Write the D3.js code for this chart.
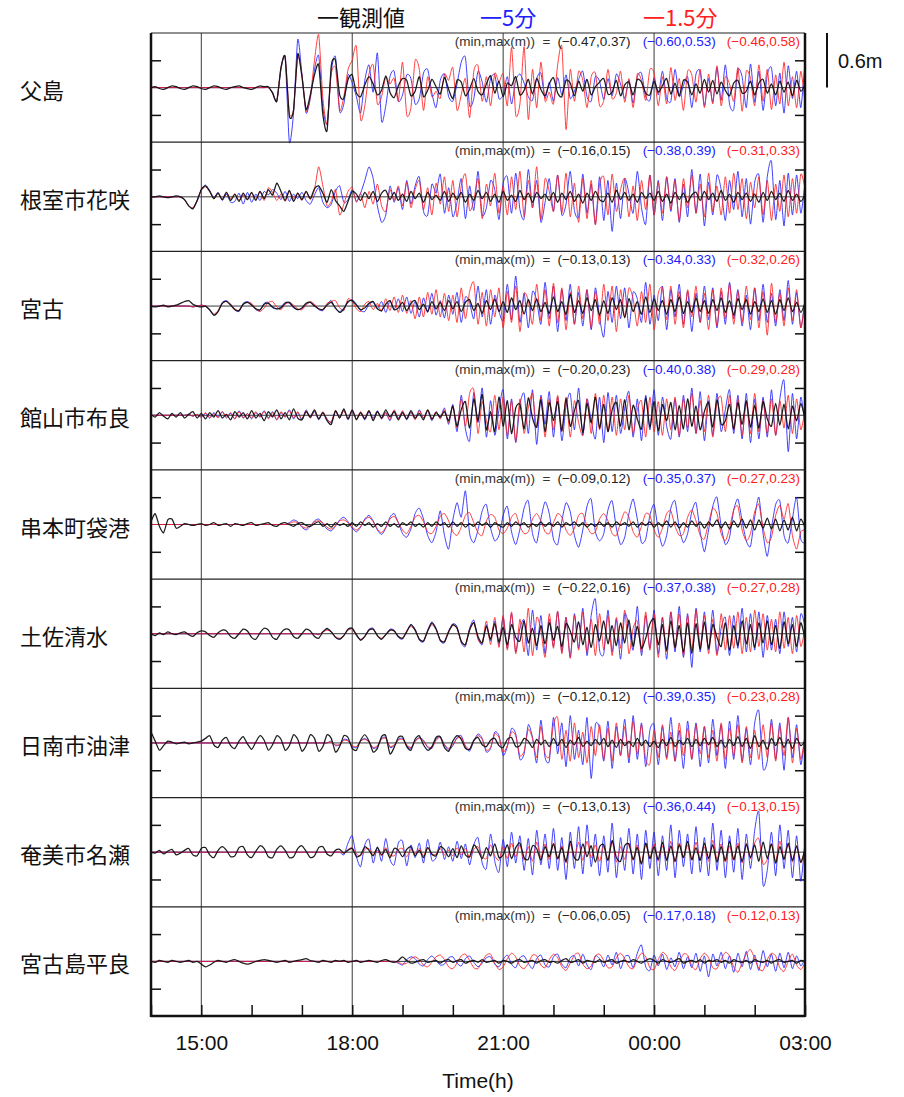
<!DOCTYPE html>
<html>
<head>
<meta charset="utf-8">
<script src="https://cdn.jsdelivr.net/npm/d3@7"></script>
<style>
  body { margin: 0; background: #fff; }
  svg { display: block; }
  .lat { font-family: "Liberation Sans", Arial, Helvetica, sans-serif; }
  .cjk { font-family: "Noto Sans CJK JP", "Noto Sans CJK SC", sans-serif; }
</style>
</head>
<body>
<svg id="chart" width="904" height="1097"></svg>
<script>
// Tide-gauge stations, top to bottom
const stations = ["父島", "根室市花咲", "宮古", "館山市布良", "串本町袋港", "土佐清水", "日南市油津", "奄美市名瀬", "宮古島平良"];

// Legend entries: observed, 5-minute and 1.5-minute simulations
const seriesNames = ["観測値", "5分", "1.5分"];
const seriesColors = ["#111111", "#2020ff", "#ff2020"];

// Axis ticks
const majorTickLabels = ["15:00", "18:00", "21:00", "00:00", "03:00"];
const yTickValues = [-0.3, 0.3];
const scaleBarMetres = 0.6;

// Sea level anomaly in cm, one sample every 5 minutes from 14:00 to 03:00 (157 samples)
const SAMPLE_MINUTES = 5;

// 父島
const obsChichi = [
  0,1,-1,-2,0,2,1,-1,-2,0,2,1,
  -1,-2,0,2,1,-1,-2,0,1,2,0,-1,
  -2,0,2,1,1,-6,-15,22,34,-31,-25,37,
  12,-24,-8,14,25,-30,-47,24,30,-8,-12,9,
  14,-6,-10,3,12,4,-8,-3,13,-5,-11,2,
  10,8,-9,-4,12,-10,-3,9,1,-7,11,-2,
  -12,8,6,-9,-2,10,-4,-8,4,13,-6,7,
  -10,5,2,12,-8,-3,9,-7,10,-2,-9,4,
  11,-6,-10,8,5,-9,7,-4,9,-8,1,6,
  10,-7,-5,8,-9,3,6,-8,9,6,-6,-8,
  7,-5,2,10,-7,5,-9,8,6,-8,4,-6,
  9,-5,8,-7,6,-3,-9,5,8,-6,-4,7,
  -8,5,9,-6,4,-8,7,-5,6,-9,8,-4,
  3];
const sim5Chichi = [
  0,0,0,0,0,0,0,0,0,0,0,0,
  0,0,0,0,0,0,0,0,0,0,0,0,
  0,0,0,0,0,-5,-15,20,32,-60,-28,53,
  15,-28,-12,20,35,-22,-40,18,34,-26,-18,14,
  5,-10,-28,8,25,-5,38,-37,-20,12,18,-15,
  -8,14,10,-18,-12,16,20,-6,-22,8,15,-10,
  -15,4,28,33,-20,-12,18,6,-16,10,14,-12,
  -8,12,-18,8,15,5,-10,-14,10,16,-12,6,
  -15,11,-8,14,-12,-4,9,18,-10,-15,12,7,
  -13,10,-9,15,4,-12,8,-17,12,16,-10,-14,
  11,-8,18,-12,-15,20,-10,2,12,-22,15,18,
  -20,10,-16,22,-14,25,-18,-24,20,12,-22,26,
  -16,18,-25,14,22,-20,16,-28,24,-12,18,-22,
  28];
const sim15Chichi = [
  0,0,0,0,0,0,0,0,0,0,0,0,
  0,0,0,0,0,0,0,0,0,0,0,0,
  0,0,0,0,0,-6,-15,22,33,-28,-24,34,
  14,-26,-10,30,58,-12,-40,15,22,-25,-10,20,
  30,45,-35,-20,15,25,-18,-10,12,4,10,-15,
  28,-30,-22,30,20,-25,12,-10,-4,-12,15,8,
  22,-25,-8,10,-33,18,24,-15,12,-20,16,6,
  15,-20,44,-30,-18,45,-35,20,-22,28,-15,-5,
  -18,25,45,-46,20,-15,18,8,-22,12,16,-20,
  -14,20,-12,-6,18,-16,10,-22,15,8,-14,20,
  16,-20,12,-18,22,-14,10,-25,18,14,-16,20,
  -22,15,-18,24,-20,12,4,-15,22,-26,18,10,
  -20,25,-15,20,-24,14,-18,28,-20,12,-22,18,
  -16];

// 根室市花咲
const obsNemuro = [
  0,0,1,0,-1,0,1,0,-3,-10,-13,-4,
  8,12,6,-2,4,-3,5,-4,3,-5,4,-3,
  5,-4,6,-2,8,2,15,6,-4,7,-5,4,
  -3,6,-2,9,12,4,-6,8,-4,-10,-16,-5,
  6,3,-4,5,-2,6,-5,4,7,-3,5,-4,
  3,-5,6,-2,4,-6,5,-3,2,-4,6,-5,
  4,-3,5,-6,3,-4,7,-2,5,-5,3,-6,
  6,-4,2,-5,7,-3,4,-6,5,-2,3,-4,
  5,-6,4,-3,6,-5,3,-7,4,-4,6,-3,
  -5,4,-6,7,-3,5,-4,3,-6,5,-2,4,
  -4,6,-5,3,-7,5,-3,4,-6,2,5,-4,
  6,-3,4,-5,7,-4,3,-6,5,-3,4,-5,
  3,-6,5,-4,6,-3,4,-5,7,-4,3,-5,
  2];
const sim5Nemuro = [
  0,0,0,0,0,0,0,0,-3,-10,-13,-5,
  8,13,7,-1,5,-4,3,-6,-5,4,-8,5,
  -6,3,-4,6,2,8,4,-3,6,-5,3,-2,
  5,-4,-8,2,10,-6,-12,-8,6,12,-6,-3,
  8,-5,4,18,33,20,-10,-28,-20,12,-6,10,
  -14,18,-8,12,22,-16,-20,14,4,25,-18,10,
  -22,-6,20,-24,12,-15,28,-20,-12,18,8,-25,
  15,22,-18,26,-14,-24,30,-12,18,-28,-6,20,
  -16,24,-20,-8,28,-15,-22,25,-18,14,-30,22,
  -26,18,-38,15,-24,20,4,-18,28,-12,-30,24,
  -20,18,-26,22,-16,20,-28,14,-22,30,-18,25,
  -32,16,-20,24,8,-26,18,-14,28,-22,20,-30,
  16,24,-28,22,39,-25,18,-32,26,-20,24,-18,
  15];
const sim15Nemuro = [
  0,0,0,0,0,0,0,0,-3,-10,-12,-4,
  7,11,6,-2,4,-3,5,-2,3,-4,2,-3,
  4,-3,6,-4,10,5,-4,3,-5,6,-2,4,
  -4,6,-3,8,33,12,-10,-5,8,-20,-8,6,
  10,-6,4,-12,6,-8,14,-10,-16,8,-4,12,
  -10,16,-12,8,18,-14,10,-20,15,-8,22,-16,
  18,-22,12,25,-15,-4,20,-24,14,-10,26,-18,
  12,-20,22,-14,28,-22,18,-12,33,-25,20,6,
  -16,24,-18,26,-22,15,-28,20,-24,18,-31,14,
  22,-20,25,-16,8,20,-22,12,-26,18,-14,24,
  -20,16,-18,22,-14,18,-26,20,-12,24,-18,14,
  -22,26,-16,12,-20,22,-18,26,-14,20,-24,16,
  -12,22,-20,18,-26,14,-16,24,-22,20,-18,25,
  10];

// 宮古
const obsMiyako = [
  0,-1,0,1,-1,0,1,3,5,6,2,0,
  -1,0,-4,-10,-6,3,5,1,-4,-5,2,4,
  1,-3,-4,2,3,-1,-3,-2,3,4,-1,-4,
  -2,3,4,0,-3,-4,1,4,-2,-7,-3,5,
  6,1,-4,-2,3,5,-3,-5,2,6,-4,-2,
  4,-5,3,6,-4,2,-6,5,-3,4,-5,6,
  -3,5,-6,4,7,-5,3,-8,6,-4,8,-6,
  5,-7,9,-4,6,-9,7,-5,8,-6,4,-8,
  10,-6,5,-9,13,-7,6,-8,9,-5,7,-10,
  6,-8,9,-4,7,-13,8,-6,5,-9,10,-7,
  8,-5,6,-9,7,-6,10,-8,5,-7,9,-6,
  6,-8,7,-5,9,-7,6,-10,8,-4,7,-9,
  5,-6,8,-7,6,-9,7,-5,9,-6,4,-7,
  3];
const sim5Miyako = [
  0,0,0,0,0,0,0,0,0,0,-1,0,
  1,0,-5,-10,-6,4,6,2,-4,-6,3,5,
  2,-4,-5,3,4,-2,-3,-1,4,3,-2,-4,
  -3,2,4,1,-4,-5,2,6,-3,-6,-2,4,
  7,2,-5,-6,2,4,-3,5,-7,6,-4,8,
  -6,10,-8,5,-12,9,-7,14,-10,6,-13,12,
  -9,15,-18,10,4,-14,22,-12,18,-20,12,-6,
  -16,24,-15,33,-18,14,-24,16,6,-20,26,-14,
  22,-28,18,-16,24,-20,15,-22,18,-26,20,-12,
  -34,16,-18,22,-14,20,-24,15,8,-18,26,-20,
  12,-16,22,-26,18,-12,24,-20,16,-28,14,-18,
  22,-15,20,-24,16,-20,26,-14,18,-22,12,-26,
  20,-16,24,-18,14,-22,18,-16,28,-20,15,-24,
  8];
const sim15Miyako = [
  0,0,0,0,0,0,0,0,0,0,-1,0,
  1,0,-4,-9,-5,3,5,2,-3,-5,2,4,
  3,-3,-6,-2,4,5,-1,-4,2,4,1,-3,
  -4,1,5,2,-3,-4,3,5,6,-2,-5,8,
  5,-3,-6,2,5,-4,3,-6,8,-5,10,-7,
  12,-8,6,-14,10,-12,15,-9,18,-12,14,-16,
  12,-18,20,-14,16,26,-20,15,-22,18,-12,20,
  -24,16,-18,22,-28,14,6,-20,24,-16,18,-22,
  25,-18,20,-26,15,-20,22,-14,18,-24,16,-20,
  24,-16,22,-28,18,-12,20,8,-22,16,-18,24,
  -26,14,20,-15,22,-20,16,-24,18,-12,22,-18,
  14,-26,18,-22,20,-14,24,-20,16,-18,22,-15,
  20,-24,16,-32,25,-18,14,-22,20,-16,18,-24,
  6];

// 館山市布良
const obsTateyama = [
  1,-2,3,-1,-4,2,-2,3,-3,1,4,-3,
  2,-4,3,-2,5,-3,1,-5,4,-2,3,-4,
  5,-3,2,-6,4,-2,6,-4,3,-5,7,-3,
  -5,4,-2,6,-4,3,-6,-10,5,-3,7,-4,
  6,-5,3,-4,5,-6,4,-3,6,-2,4,-5,
  3,-4,5,-3,2,-5,6,-4,3,-2,4,-6,
  10,-12,6,15,-14,18,-6,23,-16,4,-18,20,
  -12,16,-20,8,12,-15,19,-3,-13,17,-18,14,
  -6,15,-17,18,-12,5,16,-19,13,-8,20,-14,
  12,-18,6,14,-12,17,-16,11,-4,-15,19,-13,
  15,-17,12,-6,14,-16,11,-15,18,-12,10,-16,
  4,14,-13,17,-10,-6,12,-15,14,-10,16,-13,
  11,-14,15,-4,-12,13,-11,12,-15,10,-6,13,
  -4];
const sim5Tateyama = [
  0,0,0,0,0,0,0,0,0,1,-1,1,
  -2,2,-3,3,-2,4,-3,2,-4,5,-3,2,
  -4,3,-2,5,-3,4,-5,3,-2,6,-4,3,
  -5,6,-3,4,-5,3,-4,-8,4,-2,6,-5,
  5,-4,3,-5,4,-3,5,-4,3,-6,5,-3,
  4,-5,3,-4,6,-3,5,-6,4,-3,8,-10,
  12,-18,22,-15,-28,25,-8,30,-24,16,-22,6,
  28,-26,18,-30,12,24,-20,28,-32,22,-10,26,
  -24,20,-28,10,24,-16,30,-22,18,-6,-26,20,
  -30,25,-18,22,-20,8,26,-24,18,-28,22,-16,
  28,-22,20,-12,-26,18,-24,22,-18,30,-20,26,
  -28,16,-22,24,-18,6,28,-20,22,-26,24,-30,
  18,-26,20,-24,28,-22,18,38,-40,24,-26,20,
  -10];
const sim15Tateyama = [
  0,0,0,0,0,0,0,0,0,1,-1,1,
  -2,3,-3,2,-3,4,-2,3,-4,4,-3,2,
  -3,4,-2,4,-4,3,-5,4,-2,5,-3,4,
  -4,5,-3,5,-4,4,-5,-7,5,-3,5,-4,
  6,-4,4,-3,5,-5,4,-4,3,-5,6,-4,
  5,-4,4,-5,5,-3,6,-5,4,-4,6,-8,
  10,-14,18,-12,24,28,-20,15,-6,-18,22,-16,
  20,-22,16,-29,18,-20,8,24,-14,20,-24,18,
  -16,22,-18,20,-24,16,-8,-22,18,-20,24,-16,
  22,-18,20,-22,18,-16,22,-20,6,16,-24,20,
  -18,15,-22,18,-16,20,-22,18,-14,24,-20,16,
  -18,22,-24,14,20,-18,22,-16,18,-22,14,-20,
  24,-18,16,-20,18,-22,16,-14,22,-20,18,-16,
  6];

// 串本町袋港
const obsKushimoto = [
  3,12,-2,-9,5,6,-4,-2,1,0,-1,0,
  1,-1,0,2,-1,0,1,-2,1,0,-1,1,
  2,-1,0,1,2,-1,-2,1,2,0,-2,1,
  2,-1,-2,1,3,-2,1,-3,2,-1,1,-2,
  2,-2,3,-1,2,-3,1,-2,3,-2,1,-3,
  2,-1,3,-2,1,-3,2,-2,3,-1,2,-3,
  3,-2,2,-3,1,-2,3,-1,2,-3,2,-1,
  -3,2,-2,3,-1,2,-3,1,-2,3,-2,2,
  -2,3,-3,2,-1,3,-2,2,-3,1,-2,3,
  -2,2,-3,3,-1,2,-2,3,-3,2,-1,3,
  -3,2,-2,4,-3,3,-4,2,-3,4,-2,3,
  -4,3,-2,5,-4,3,-5,4,-3,6,-4,5,
  -6,5,-4,7,-5,6,-7,5,-6,8,-7,6,
  -3];
const sim5Kushimoto = [
  0,0,0,0,0,0,0,0,0,0,0,0,
  0,0,0,0,0,0,0,0,0,0,0,0,
  0,0,0,0,0,0,0,0,0,2,5,3,
  -3,-6,-2,4,6,1,-5,-7,-2,5,8,3,
  -4,-8,-3,6,10,4,-6,-11,-4,8,12,2,
  -10,-14,-5,12,18,6,-12,-20,-8,15,-12,-27,
  5,24,8,37,-10,-20,-6,15,22,-4,-18,-12,
  10,20,-8,-22,-5,18,26,-10,-20,6,25,12,
  -16,-22,4,24,14,-12,-25,-6,20,28,-8,-18,
  -10,16,26,-4,-22,-14,12,28,6,-20,-16,10,
  22,-6,-24,-12,18,26,-4,-20,-10,14,24,-8,
  -30,-6,20,30,-2,-22,-14,16,28,4,-18,-24,
  8,30,-10,-35,-4,22,26,-12,-20,6,30,-16,
  -20];
const sim15Kushimoto = [
  0,0,0,0,0,0,0,0,0,0,0,0,
  0,0,0,0,0,0,0,0,0,0,0,0,
  0,0,0,0,0,0,0,0,0,1,3,2,
  -2,-4,-1,3,4,2,-3,-5,-1,4,5,2,
  -3,-6,-2,5,8,3,-5,-9,-3,6,9,2,
  -6,-10,-2,8,10,3,-8,-10,-2,9,12,4,
  -8,-12,-3,10,13,2,-9,-12,4,11,8,-6,
  -10,-4,8,12,-2,-10,-8,6,12,4,-8,-10,
  2,12,8,-6,-12,-4,10,12,-2,-10,-8,6,
  12,4,-10,-12,2,14,8,-8,-14,-2,12,10,
  -6,-14,-4,12,15,-2,-12,-10,8,16,4,-12,
  -16,2,18,12,-10,-18,-4,16,20,-6,-18,-10,
  14,22,-4,-20,-14,10,21,6,23,-12,-27,-8,
  -6];

// 土佐清水
const obsTosa = [
  0,-2,1,-1,2,0,-1,1,2,-1,-3,1,
  3,2,-2,-4,1,4,3,-3,-5,0,5,3,
  -4,-6,1,6,4,-4,-6,1,5,4,-3,-5,
  0,5,3,-3,-5,2,6,2,-4,-6,-2,5,
  6,-1,-7,-3,4,5,-2,-6,-1,4,3,-3,
  -5,2,10,4,-6,-8,3,12,5,-7,-9,2,
  10,6,-8,-12,4,12,-3,-10,8,-6,11,-9,
  7,-12,10,-4,-8,14,-10,6,-13,9,-11,12,
  -7,8,-14,11,3,-9,13,-12,7,-15,10,-8,
  14,-11,9,-13,12,-10,15,-14,8,-16,-5,11,
  16,-12,10,-18,14,-15,9,-20,12,-22,11,-17,
  13,-16,10,-4,-14,12,-18,9,-13,14,-11,10,
  -15,12,-10,14,-12,9,-16,13,-11,10,-14,12,
  -6];
const sim5Tosa = [
  0,0,0,0,0,0,0,0,0,0,0,0,
  0,0,0,0,0,0,0,0,0,0,0,0,
  0,0,0,0,0,0,0,0,0,0,0,0,
  0,0,0,0,-1,2,5,2,-4,-6,-2,5,
  6,-2,-7,-3,5,6,-2,-6,-1,5,4,-4,
  -6,3,10,5,-7,-9,4,13,6,-8,-10,3,
  11,8,-10,-14,6,15,-5,-12,10,-8,14,-12,
  18,-16,22,-20,6,15,-24,26,-18,20,-22,16,
  -14,24,-20,18,-26,22,-16,28,-24,20,38,-18,
  -22,26,-20,16,-28,22,8,-18,30,-24,20,-16,
  26,-22,18,-28,24,-20,30,-26,22,-37,28,-20,
  24,-18,26,-22,6,18,-24,20,-16,28,-20,22,
  -18,24,-26,20,-18,16,-22,24,-14,18,-20,22,
  8];
const sim15Tosa = [
  0,0,0,0,0,0,0,0,0,0,0,0,
  0,0,0,0,0,0,0,0,0,0,0,0,
  0,0,0,0,0,0,0,0,0,0,0,0,
  0,0,0,0,-1,2,4,2,-3,-5,-2,4,
  5,-2,-6,-3,4,5,-2,-5,-1,4,3,-3,
  -5,3,8,4,-6,-8,3,10,5,-7,-8,3,
  9,6,-9,-12,5,12,-6,-10,14,-12,18,-15,
  20,-18,24,-22,16,-20,28,-24,18,4,-26,22,
  -16,25,-22,18,-27,20,-18,24,-20,16,-24,22,
  -18,20,-24,18,-16,26,-22,6,14,-20,24,-18,
  22,-26,18,-20,24,-16,22,-24,20,-18,26,-14,
  20,-22,16,-24,22,-18,20,-16,24,-22,18,-20,
  26,-14,22,-18,16,-20,24,-16,18,-22,20,-14,
  6];

// 日南市油津
const obsNichinan = [
  12,2,-8,-3,2,1,-1,0,1,-1,0,1,
  2,5,8,-2,-5,3,6,-3,-6,2,7,-1,
  -7,1,8,3,-8,-2,8,4,-8,-3,9,4,
  -9,-3,9,5,-9,-4,9,5,-10,-4,8,6,
  -6,-8,3,9,2,-10,-6,7,8,-12,-5,6,
  7,-4,-8,4,8,-2,-8,-4,6,7,-5,-9,
  2,8,4,-6,-7,3,6,-2,-4,3,5,-3,
  -5,4,6,-4,-3,5,2,-5,4,-2,3,-4,
  5,-3,4,-5,3,-2,6,-4,2,-3,4,-2,
  5,-4,3,-5,4,-3,2,-4,5,-3,3,-4,
  2,-5,4,-3,6,-4,3,-2,5,-4,4,-3,
  5,-2,6,-4,3,-5,4,-3,7,-4,5,-6,
  8,-4,3,-7,5,-3,6,-5,4,-6,5,-3,
  2];
const sim5Nichinan = [
  0,0,0,0,0,0,0,0,0,0,0,0,
  0,0,0,0,0,0,0,0,0,0,0,0,
  0,0,0,0,0,0,0,0,0,0,0,0,
  0,0,0,0,0,0,0,2,-3,-2,4,3,
  -4,-5,2,5,1,-6,-4,5,6,-5,-3,4,
  5,-3,-6,2,6,3,-5,-6,4,7,-2,-8,
  -3,6,8,-4,-9,2,10,5,-10,-6,12,8,
  -14,-4,16,10,-18,-12,20,6,-22,25,-16,-20,
  28,-12,22,-26,30,-18,14,-24,28,-39,20,16,
  -20,24,-28,18,-14,26,-22,30,-18,22,-26,14,
  20,-24,18,-16,28,-20,14,-28,24,-18,22,-26,
  18,-22,26,-14,20,-28,24,-18,30,-20,16,-24,
  22,35,-28,-20,26,-18,22,-30,28,-16,20,-24,
  10];
const sim15Nichinan = [
  0,0,0,0,0,0,0,0,0,0,0,0,
  0,0,0,0,0,0,0,0,0,0,0,0,
  0,0,0,0,0,0,0,0,0,0,0,0,
  0,0,0,0,0,0,0,1,-2,-2,3,2,
  -3,-4,2,4,1,-5,-3,4,5,-4,-2,3,
  4,-2,-5,2,5,2,-4,-5,3,6,-2,-6,
  -2,5,6,-3,-7,2,8,4,-8,-5,10,6,
  -10,-3,12,8,-14,-9,15,5,-16,18,-12,-15,
  20,28,-18,14,-20,22,-16,12,-22,18,-14,20,
  -18,16,-20,22,-14,18,-16,24,-12,20,-18,-23,
  14,-16,20,-18,12,-20,22,-14,16,-18,20,-12,
  18,-16,14,-20,22,-18,16,-14,20,-22,18,-16,
  14,-18,20,-16,22,-20,18,-14,28,-22,16,-18,
  8];

// 奄美市名瀬
const obsAmami = [
  0,-1,2,-2,1,3,-3,-1,2,4,-3,-4,
  4,5,-3,-6,2,6,2,-5,-4,5,6,-3,
  -6,1,7,4,-5,-6,3,7,2,-6,-5,4,
  7,1,-6,-4,5,6,-2,-4,2,3,-1,2,
  4,-5,-3,6,2,-4,5,-3,3,-6,4,2,
  -5,3,6,-4,2,-6,5,-2,-4,6,3,-5,
  4,-6,7,-3,-5,8,2,-7,5,-4,9,-6,
  -3,8,-7,5,10,-6,-8,7,4,-9,6,-5,
  9,-7,5,-10,12,-6,-8,9,-5,7,-11,6,
  8,-9,13,-6,-10,7,9,-8,5,-13,10,-7,
  6,-8,11,-9,7,-10,8,-6,12,-8,5,-9,
  10,-7,8,-11,6,-9,12,-8,7,-10,9,-6,
  8,-10,11,-7,9,-12,6,-8,10,-9,7,-11,
  3];
const sim5Amami = [
  0,0,0,0,0,0,0,0,0,0,0,0,
  0,0,0,0,0,0,0,0,0,0,0,0,
  0,0,0,0,0,0,0,0,0,0,0,0,
  0,0,0,0,0,0,0,0,0,0,-3,10,
  18,-5,-16,8,14,-12,6,-10,15,-8,-14,10,
  12,-15,8,-6,10,-12,14,-9,-6,11,-8,6,
  -10,12,-7,9,-14,8,16,-12,-18,20,-10,-22,
  14,-16,22,-12,18,-20,15,-25,24,-14,20,-18,
  26,-20,16,-30,22,-18,28,-24,30,-16,20,-26,
  18,-22,32,-28,16,-20,26,-24,20,-30,24,-18,
  22,-26,18,-20,30,-28,24,-16,20,-24,28,-22,
  16,-26,32,-20,24,-28,18,-22,26,-30,20,-18,
  24,44,-36,-20,22,-26,30,-18,24,-28,18,-32,
  12];
const sim15Amami = [
  0,0,0,0,0,0,0,0,0,0,0,0,
  0,0,0,0,0,0,0,0,0,0,0,0,
  0,0,0,0,0,0,0,0,0,0,0,0,
  0,0,0,0,0,0,0,0,0,0,-1,3,
  5,-2,-4,3,4,-3,2,-4,5,-3,-4,3,
  4,-5,3,-2,4,-4,5,-3,-2,4,-3,2,
  -4,5,-3,4,-6,3,6,-5,-7,8,-4,-9,
  6,-7,10,-5,8,-9,6,-10,11,-6,9,-8,
  10,-8,7,-12,9,-7,11,-9,12,-6,8,-10,
  7,-9,12,-11,6,-8,10,-9,8,-12,9,-7,
  9,-10,7,-8,12,-11,10,-6,8,-9,11,-8,
  6,-10,13,-8,9,-11,7,-9,10,-12,8,-7,
  10,15,-13,-8,9,-10,12,-7,9,-11,7,-12,
  5];

// 宮古島平良
const obsHirara = [
  0,-1,1,0,-1,1,0,-1,0,1,-1,0,
  -3,-6,-4,-1,1,0,-1,1,2,0,-2,-3,
  -2,0,1,2,1,0,-1,0,1,-1,0,1,
  2,3,1,0,-1,1,0,-1,1,0,1,-1,
  0,1,-1,0,1,0,-1,1,2,0,-1,1,
  5,1,-2,-1,1,2,-1,0,1,-2,1,2,
  -1,1,2,-2,0,1,-1,2,-1,0,1,-2,
  1,0,-2,1,2,-1,0,1,-2,1,2,-1,
  0,-2,1,3,-1,0,2,-2,1,0,-1,2,
  -1,1,2,-2,0,1,-1,2,0,-2,1,3,
  1,-2,2,0,-1,1,3,-2,0,1,-1,2,
  -2,1,0,2,-1,1,-2,2,0,-1,1,-2,
  2,0,-1,1,-2,1,2,-1,0,1,-2,1,
  0];
const sim5Hirara = [
  0,0,0,0,0,0,0,0,0,0,0,0,
  0,0,0,0,0,0,0,0,0,0,0,0,
  0,0,0,0,0,0,0,0,0,0,0,0,
  0,0,0,0,0,0,0,0,0,0,0,0,
  0,0,0,0,0,0,0,0,0,0,0,-2,
  -4,2,5,3,-3,-5,2,6,1,-4,-3,4,
  5,-2,-5,3,6,-1,-6,-2,4,5,-3,-6,
  2,7,-3,-7,4,6,-2,-8,3,7,-4,-6,
  5,8,-3,-7,4,6,-5,8,-4,-9,6,3,
  -6,7,-4,10,-8,5,6,-7,9,18,-6,-10,
  7,-5,8,-9,4,-6,10,-8,5,-7,9,-11,
  6,-17,8,-5,10,-8,6,-12,9,-6,11,-9,
  7,-10,12,-6,8,-11,9,-7,10,-8,6,-5,
  3];
const sim15Hirara = [
  0,0,0,0,0,0,0,0,0,0,0,0,
  0,0,0,0,0,0,0,0,0,0,0,0,
  0,0,0,0,0,0,0,0,0,0,0,0,
  0,0,0,0,0,0,0,0,0,0,0,0,
  0,0,0,0,0,0,0,0,0,0,0,-1,
  -3,-2,3,5,2,-4,-6,-1,5,7,2,-6,
  -8,-2,6,8,1,-7,-8,0,7,8,-2,-9,
  -6,3,9,5,-5,-8,-2,7,6,-4,-7,2,
  8,4,-6,-10,-2,7,9,-3,-8,-5,6,8,
  1,-7,-6,4,9,3,-6,-8,2,9,5,-7,
  -9,2,10,6,-6,-10,-1,8,7,-5,-9,3,
  9,4,-7,-8,2,10,6,-6,-12,-2,8,13,
  3,-8,-10,2,9,6,-7,-11,0,8,-4,-9,
  -2];

// Panel table: [observed, 5-minute, 1.5-minute] per station
const panels = [
  [obsChichi, sim5Chichi, sim15Chichi],
  [obsNemuro, sim5Nemuro, sim15Nemuro],
  [obsMiyako, sim5Miyako, sim15Miyako],
  [obsTateyama, sim5Tateyama, sim15Tateyama],
  [obsKushimoto, sim5Kushimoto, sim15Kushimoto],
  [obsTosa, sim5Tosa, sim15Tosa],
  [obsNichinan, sim5Nichinan, sim15Nichinan],
  [obsAmami, sim5Amami, sim15Amami],
  [obsHirara, sim5Hirara, sim15Hirara]
].map((series, k) => ({ name: stations[k], series }));

// ---------- layout ----------
const plot = { left: 151, right: 805, top: 33, bottom: 1016 };
const panelH = (plot.bottom - plot.top) / panels.length;
const T0 = new Date(2000, 0, 1, 14, 0);
const T1 = new Date(2000, 0, 2, 3, 0);
const tAt = i => d3.timeMinute.offset(T0, i * SAMPLE_MINUTES);

const svg = d3.select("#chart");
const x = d3.scaleTime().domain([T0, T1]).range([plot.left, plot.right]);
const fmtTime = d3.timeFormat("%H:%M");
const majorTicks = d3.timeHour.every(3).range(T0, d3.timeMinute.offset(T1, 1))
  .filter(d => majorTickLabels.includes(fmtTime(d)));
const hourTicks = d3.timeHour.every(1).range(T0, d3.timeMinute.offset(T1, 1));

const fmtVal = v => (v < 0 ? "\u2212" : "") + Math.abs(v).toFixed(2);

// vertical grid lines at the labelled hours
svg.append("g")
  .selectAll("line")
  .data(majorTicks.slice(0, -1))
  .join("line")
  .attr("x1", d => x(d)).attr("x2", d => x(d))
  .attr("y1", plot.top).attr("y2", plot.bottom)
  .attr("stroke", "#3a3a3a").attr("stroke-width", 1);

const line = d3.line().curve(d3.curveCardinal.tension(0.35));

panels.forEach((p, k) => {
  const y0 = plot.top + panelH * k;
  const y = d3.scaleLinear().domain([-0.6, 0.6]).range([y0 + panelH, y0]);
  const g = svg.append("g");

  // panel separator
  if (k > 0) {
    g.append("line")
      .attr("x1", plot.left).attr("x2", plot.right)
      .attr("y1", y0).attr("y2", y0)
      .attr("stroke", "#222").attr("stroke-width", 1.2);
  }
  // zero line
  g.append("line")
    .attr("x1", plot.left).attr("x2", plot.right)
    .attr("y1", y(0)).attr("y2", y(0))
    .attr("stroke", "#3a3a3a").attr("stroke-width", 1);

  // inward ticks on both sides
  const left = g.append("g").attr("transform", `translate(${plot.left},0)`)
    .call(d3.axisLeft(y).tickValues(yTickValues).tickSize(-10).tickFormat(""));
  const right = g.append("g").attr("transform", `translate(${plot.right},0)`)
    .call(d3.axisRight(y).tickValues(yTickValues).tickSize(-10).tickFormat(""));
  [left, right].forEach(a => {
    a.select(".domain").remove();
    a.selectAll(".tick line").attr("stroke", "#111").attr("stroke-width", 1.5);
  });

  // waveforms: simulations first, observation on top
  [1, 2, 0].forEach(s => {
    const vals = p.series[s];
    const pts = vals.map((v, i) => [x(tAt(i)), y(v / 100)]);
    g.append("path")
      .attr("d", line(pts))
      .attr("fill", "none")
      .attr("stroke", seriesColors[s])
      .attr("stroke-width", s === 0 ? 1.25 : 0.95)
      .attr("stroke-opacity", s === 0 ? 0.95 : 0.9)
      .attr("stroke-linejoin", "round");
  });

  // min/max header, laid out right to left
  const hy = y0 + 13;
  const labels = p.series.map(vals => {
    const [mn, mx] = d3.extent(vals, v => v / 100);
    return `(${fmtVal(mn)},${fmtVal(mx)})`;
  });
  let xr = plot.right - 5;
  const gaps = [0, 11, 12];
  [2, 1, 0].forEach((s, j) => {
    xr -= gaps[j];
    const t = g.append("text").attr("class", "lat")
      .attr("x", xr).attr("y", hy)
      .attr("text-anchor", "end")
      .attr("font-size", 13.5)
      .attr("fill", s === 0 ? "#222" : seriesColors[s])
      .text(labels[s]);
    xr -= t.node().getComputedTextLength();
  });
  g.append("text").attr("class", "lat")
    .attr("x", xr - 7).attr("y", hy)
    .attr("text-anchor", "end")
    .attr("font-size", 13.5)
    .attr("fill", "#333")
    .style("white-space", "pre")
    .text("(min,max(m))  =");

  // station name
  g.append("text").attr("class", "cjk")
    .attr("x", 20).attr("y", y(0) + 1)
    .attr("dominant-baseline", "central")
    .attr("font-size", 22)
    .attr("fill", "#111")
    .text(p.name);

  // vertical scale bar beside the first panel
  if (k === 0) {
    svg.append("line")
      .attr("x1", 827).attr("x2", 827)
      .attr("y1", y(scaleBarMetres)).attr("y2", y(0))
      .attr("stroke", "#111").attr("stroke-width", 2);
    svg.append("text").attr("class", "lat")
      .attr("x", 838).attr("y", (y(scaleBarMetres) + y(0)) / 2 + 1)
      .attr("dominant-baseline", "central")
      .attr("font-size", 20)
      .attr("fill", "#111")
      .text(`${scaleBarMetres}m`);
  }
});

// hourly ticks along the bottom
const minor = svg.append("g").attr("transform", `translate(0,${plot.bottom})`)
  .call(d3.axisBottom(x).tickValues(hourTicks).tickSize(-11).tickFormat(""));
minor.select(".domain").remove();
minor.selectAll(".tick line").attr("stroke", "#111").attr("stroke-width", 1.5);

// labelled hours
const major = svg.append("g").attr("transform", `translate(0,${plot.bottom})`)
  .call(d3.axisBottom(x).tickValues(majorTicks).tickSize(0).tickPadding(19).tickFormat(fmtTime));
major.select(".domain").remove();
major.selectAll("text")
  .attr("class", "lat")
  .attr("font-size", 21)
  .attr("fill", "#111");

// frame
svg.append("line").attr("x1", plot.left).attr("x2", plot.right)
  .attr("y1", plot.top).attr("y2", plot.top)
  .attr("stroke", "#222").attr("stroke-width", 1.2);
svg.append("line").attr("x1", plot.left).attr("x2", plot.right)
  .attr("y1", plot.bottom).attr("y2", plot.bottom)
  .attr("stroke", "#111").attr("stroke-width", 2.5);
svg.append("line").attr("x1", plot.left).attr("x2", plot.left)
  .attr("y1", plot.top).attr("y2", plot.bottom + 1)
  .attr("stroke", "#111").attr("stroke-width", 2.5);
svg.append("line").attr("x1", plot.right).attr("x2", plot.right)
  .attr("y1", plot.top).attr("y2", plot.bottom + 1)
  .attr("stroke", "#111").attr("stroke-width", 2.5);

// axis title
svg.append("text").attr("class", "lat")
  .attr("x", (plot.left + plot.right) / 2).attr("y", 1088)
  .attr("text-anchor", "middle")
  .attr("font-size", 21)
  .attr("fill", "#111")
  .text("Time(h)");

// legend
const legendX = [317, 480, 643];
seriesNames.forEach((n, s) => {
  svg.append("text").attr("class", "cjk")
    .attr("x", legendX[s]).attr("y", 26)
    .attr("font-size", 22)
    .attr("fill", seriesColors[s])
    .text("一" + n);
});
</script>
</body>
</html>
